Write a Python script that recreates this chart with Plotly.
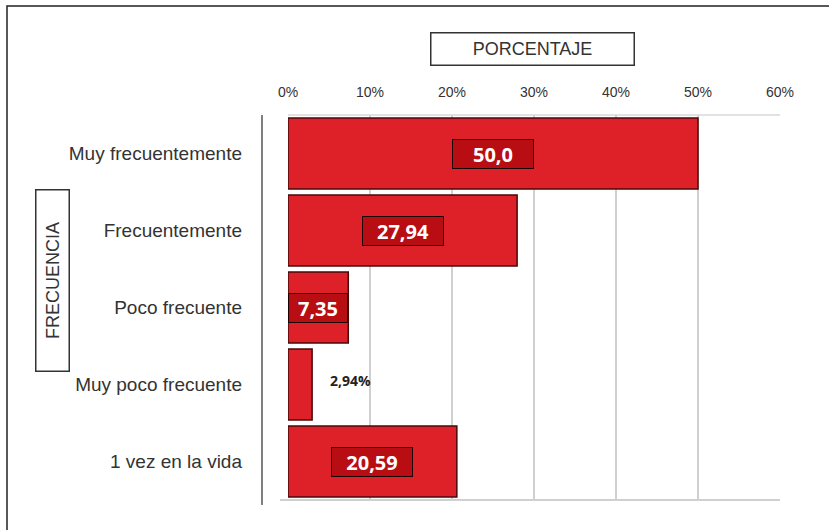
import plotly.graph_objects as go

# ── Data ───────────────────────────────────────────────────
categorias = ['Muy frecuentemente', 'Frecuentemente', 'Poco frecuente',
              'Muy poco frecuente', '1 vez en la vida']
porcentajes = [50.0, 27.94, 7.35, 2.94, 20.59]
etiquetas = ['50,0', '27,94', '7,35', '2,94%', '20,59']
en_caja = [True, True, True, False, True]
x_ticks = [0, 10, 20, 30, 40, 50, 60]
x_ticktext = ['0%', '10%', '20%', '30%', '40%', '50%', '60%']

# ── Layout helpers (pixel -> paper) ───────────────────────
W, H = 829, 530
L, R, T, B = 288, 780, 115, 500


def px(x):
    return (x - L) / (R - L)


def py(y):
    return (B - y) / (B - T)


fig = go.Figure(go.Bar(
    x=porcentajes, y=categorias, orientation='h',
    marker=dict(color='#de2128', line=dict(color='#4a0808', width=1.5)),
    hoverinfo='skip',
))

# data labels
for cat, val, txt, boxed in zip(categorias, porcentajes, etiquetas, en_caja):
    if boxed:
        ancho = 56 if val < 10 else 78
        fig.add_annotation(x=max(val / 2, 3.6), y=cat, text=f'<b>{txt}</b>', showarrow=False,
                           xanchor='center', yanchor='middle', width=ancho, height=26,
                           font=dict(family='Open Sans', size=20, color='white'),
                           bgcolor='#b80d12', bordercolor='#1a0000', borderwidth=1,
                           borderpad=1)
    else:
        fig.add_annotation(x=val, y=cat, text=f'<b>{txt}</b>', showarrow=False,
                           xanchor='left', xshift=16, yshift=4,
                           font=dict(family='Open Sans', size=14, color='#222'))

# axis titles in boxes
fig.add_annotation(x=px(532), y=py(49), xref='paper', yref='paper',
                   xanchor='center', yanchor='middle',
                   text='PORCENTAJE', showarrow=False, width=200, height=29,
                   font=dict(family='Liberation Sans', size=18, color='#333'),
                   bordercolor='#333', borderwidth=1.5, bgcolor='white')
fig.add_annotation(x=px(52), y=py(281), xref='paper', yref='paper',
                   xanchor='center', yanchor='middle',
                   text='FRECUENCIA', showarrow=False, textangle=-90,
                   width=178, height=30,
                   font=dict(family='Liberation Sans', size=18, color='#333'),
                   bordercolor='#333', borderwidth=1.5, bgcolor='white')

# outer frame and y axis line
fig.add_shape(type='rect', xref='paper', yref='paper',
              x0=px(7), x1=px(840), y0=py(6), y1=py(545),
              line=dict(color='#222', width=1.5), layer='below')
fig.add_shape(type='line', xref='paper', yref='paper',
              x0=px(262), x1=px(262), y0=py(115), y1=py(505),
              line=dict(color='#555', width=1.5))
fig.add_shape(type='line', xref='paper', yref='paper',
              x0=px(280), x1=1, y0=0, y1=0,
              line=dict(color='#d0d0d0', width=2))
fig.add_shape(type='line', xref='paper', yref='paper',
              x0=0, x1=1, y0=1, y1=1,
              line=dict(color='#d8d8d8', width=1.5))

fig.update_layout(
    width=W, height=H,
    margin=dict(l=L, r=W - R, t=T, b=H - B),
    paper_bgcolor='white', plot_bgcolor='white',
    bargap=0.08, showlegend=False,
    font=dict(family='Liberation Sans', color='#333'),
)
fig.update_xaxes(range=[0, 60], side='top', tickvals=x_ticks, ticktext=x_ticktext,
                 showgrid=True, gridcolor='#d0d0d0', gridwidth=1.5,
                 zeroline=False, ticks='', ticklabelstandoff=14,
                 tickfont=dict(family='Liberation Sans', size=14, color='#333'))
fig.update_yaxes(autorange='reversed', showgrid=False, ticks='',
                 ticklabelstandoff=45,
                 tickfont=dict(family='Liberation Sans', size=19, color='#333'))

fig.write_html('out.html', config={'displayModeBar': False},
               post_script="document.body.style.margin='0';")
